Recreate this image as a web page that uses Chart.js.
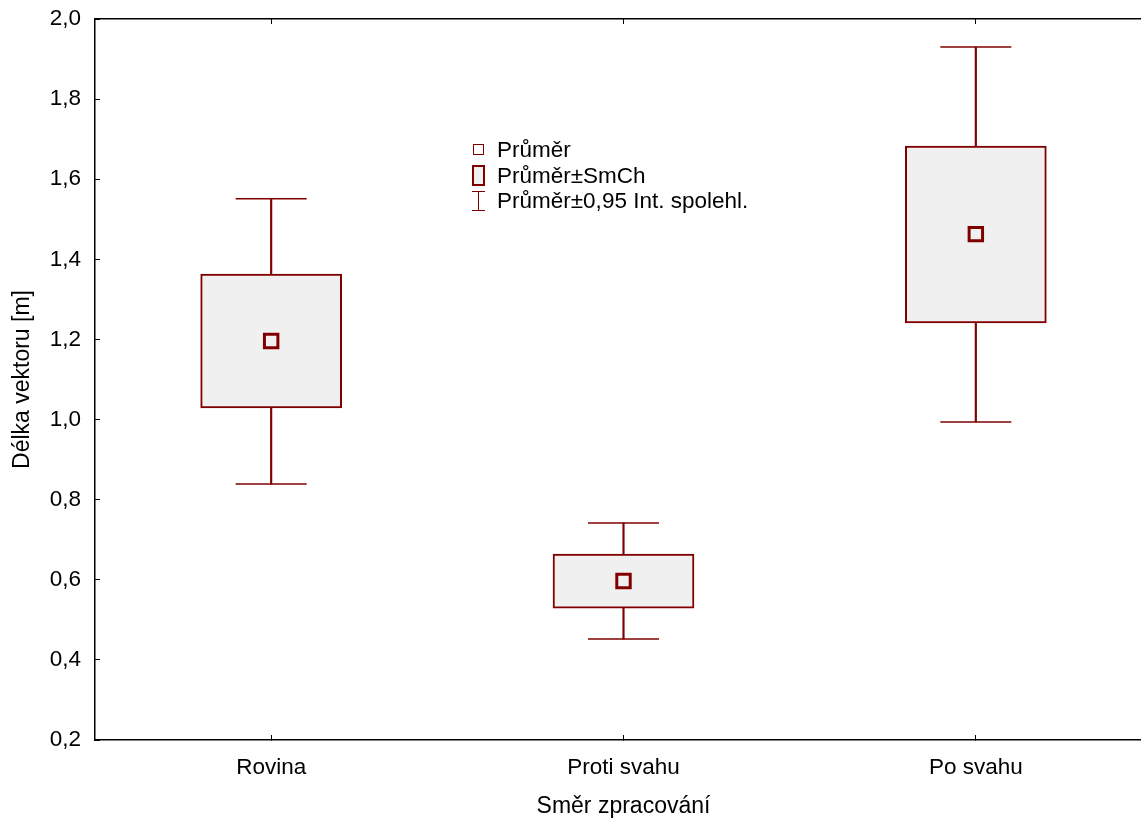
<!DOCTYPE html>
<html>
<head>
<meta charset="utf-8">
<script src="https://cdn.jsdelivr.net/npm/chart.js@4/dist/chart.umd.min.js"></script>
<style>
  html, body { margin: 0; padding: 0; background: #fff; overflow: hidden; }
  #wrap { position: relative; width: 1152px; height: 821px; }
  #legend { position: absolute; left: 470px; top: 137px; font-family: 'Liberation Sans', Arial, sans-serif; font-size: 22.5px; color: #000; }
  .row { position: relative; height: 25.5px; line-height: 25.5px; padding-left: 27px; white-space: nowrap; }
  .ico { position: absolute; box-sizing: border-box; }
</style>
</head>
<body>
<div id="wrap">
  <canvas id="myChart"></canvas>
  <div id="legend"></div>
</div>
<script>
// data
const categories = ['Rovina', 'Proti svahu', 'Po svahu'];
const means = [1.196, 0.597, 1.463];
const seLow = [1.029, 0.529, 1.241];
const seHigh = [1.363, 0.664, 1.683];
const ciLow = [0.839, 0.452, 0.994];
const ciHigh = [1.551, 0.742, 1.930];
const yMin = 0.2, yMax = 2.0, yStep = 0.2;
const legendLabels = ['Průměr', 'Průměr±SmCh', 'Průměr±0,95 Int. spolehl.'];

const red = '#800000';
const fill = '#f0f0f0';
const tickFont = { family: "'Liberation Sans', Arial, sans-serif", size: 22.5 };
const titleFont = { family: "'Liberation Sans', Arial, sans-serif", size: 23 };

// legend (html)
const legend = document.getElementById('legend');
legendLabels.forEach((txt, i) => {
    const row = document.createElement('div');
    row.className = 'row';
    const ico = document.createElement('div');
    ico.className = 'ico';
    if (i === 0) {
        ico.style.cssText = 'left:3px;top:7px;width:11px;height:11px;border:1.5px solid ' + red + ';background:#fff;';
    } else if (i === 1) {
        ico.style.cssText = 'left:2px;top:2px;width:13px;height:21px;border:2.5px solid ' + red + ';background:' + fill + ';';
    } else {
        ico.style.cssText = 'left:2px;top:3px;width:13px;height:20px;border-top:1.5px solid ' + red + ';border-bottom:1.5px solid ' + red + ';';
        const v = document.createElement('div');
        v.style.cssText = 'position:absolute;left:5.5px;top:0;width:1.5px;height:100%;background:' + red + ';';
        ico.appendChild(v);
    }
    row.appendChild(ico);
    row.appendChild(document.createTextNode(txt));
    legend.appendChild(row);
});

// no auto padding from label overflow
const noPad = (s) => { s.paddingTop = 0; s.paddingBottom = 0; s.paddingLeft = 0; s.paddingRight = 0; };

//  CHART JS
const ctx = document.getElementById('myChart');

const config = {
    type: 'bar',
    data: {
        labels: categories,
        datasets: [
            {
                label: 'whisker',
                data: categories.map((c, i) => [ciLow[i], ciHigh[i]]),
                backgroundColor: red,
                borderWidth: 0,
                barThickness: 1.5,
                grouped: false,
                order: 3
            },
            {
                label: 'box',
                data: categories.map((c, i) => [seLow[i], seHigh[i]]),
                backgroundColor: fill,
                borderColor: red,
                borderWidth: 2,
                borderSkipped: false,
                barThickness: 141,
                grouped: false,
                order: 2
            },
            {
                type: 'line',
                label: 'capHigh',
                data: ciHigh,
                showLine: false,
                pointStyle: 'line',
                pointRadius: 35.5,
                pointBorderWidth: 1.5,
                pointBorderColor: red,
                order: 1
            },
            {
                type: 'line',
                label: 'capLow',
                data: ciLow,
                showLine: false,
                pointStyle: 'line',
                pointRadius: 35.5,
                pointBorderWidth: 1.5,
                pointBorderColor: red,
                order: 1
            },
            {
                type: 'line',
                label: 'mean',
                data: means,
                showLine: false,
                pointStyle: 'rect',
                pointRadius: 9.5,
                pointBorderWidth: 3,
                pointBorderColor: red,
                pointBackgroundColor: fill,
                order: 0
            }
        ]
    },
    options: {
        responsive: true,
        maintainAspectRatio: false,
        animation: false,
        events: [],
        layout: { autoPadding: false, padding: { top: 19, right: 0, bottom: 0, left: 0 } },
        plugins: {
            legend: { display: false },
            tooltip: { enabled: false }
        },
        scales: {
            x: {
                type: 'category',
                position: 'bottom',
                offset: true,
                grid: { offset: false, drawOnChartArea: false, tickLength: -5, color: '#000', lineWidth: 1 },
                border: { color: '#000', width: 1.5 },
                ticks: { color: '#000', font: tickFont, padding: 19, maxRotation: 0 },
                title: { display: true, text: 'Směr zpracování', color: '#000', font: titleFont, padding: { top: 0, bottom: 1 } },
                afterFit(s) { s.height = 81; noPad(s); }
            },
            x2: {
                type: 'category',
                position: 'top',
                offset: true,
                grid: { offset: false, drawOnChartArea: false, tickLength: -5, color: '#000', lineWidth: 1 },
                border: { color: '#000', width: 1.5 },
                ticks: { display: false },
                afterFit(s) { s.height = 0; noPad(s); }
            },
            y: {
                min: yMin,
                max: yMax,
                grid: { drawOnChartArea: false, tickLength: -5, color: '#000', lineWidth: 1 },
                border: { color: '#000', width: 1.5 },
                ticks: {
                    stepSize: yStep,
                    color: '#000',
                    font: tickFont,
                    padding: 19,
                    callback: (v) => v.toFixed(1).replace('.', ',')
                },
                title: { display: true, text: 'Délka vektoru [m]', color: '#000', font: titleFont, padding: { top: 9, bottom: 0 } },
                afterFit(s) { s.width = 95; noPad(s); }
            }
        }
    }
};

const chart = new Chart(ctx, config);
</script>
</body>
</html>
